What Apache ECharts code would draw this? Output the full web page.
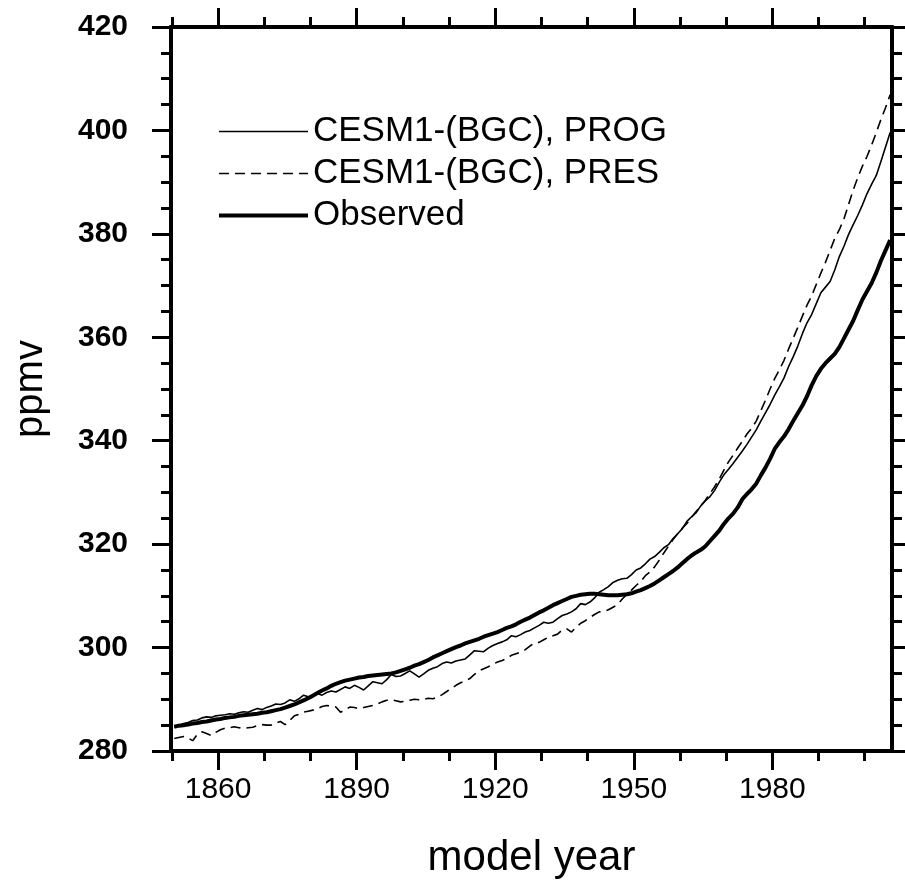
<!DOCTYPE html>
<html>
<head>
<meta charset="utf-8">
<script src="https://cdn.jsdelivr.net/npm/echarts@6/dist/echarts.min.js"></script>
<style>html,body{margin:0;padding:0;background:#fff}#c{width:905px;height:884px}</style>
</head>
<body>
<div id="c"></div>
<script>
const startYear = 1850;
const seriesNames = ['CESM1-(BGC), PROG', 'CESM1-(BGC), PRES', 'Observed'];
const xMajorTicks = [1860, 1890, 1920, 1950, 1980];
const xMinorTicks = [1850, 1870, 1880, 1900, 1910, 1930, 1940, 1960, 1970, 1990, 2000];
const yTicks = [280, 300, 320, 340, 360, 380, 400, 420];

const prog = [
284.6,284.9,285.3,285.5,285.9,286.0,286.4,286.6,286.5,286.8,
286.9,287.0,287.2,287.1,287.4,287.6,287.5,287.9,288.2,288.0,
288.4,288.7,289.1,289.0,289.3,289.9,289.6,290.1,290.8,290.5,
290.7,291.1,290.8,291.3,291.6,291.4,291.9,292.4,292.1,292.7,
292.3,291.8,292.6,293.4,293.2,293.0,293.8,294.8,294.4,294.5,
295.0,295.5,294.9,294.3,294.9,295.6,296.0,296.3,296.9,297.2,
297.0,297.4,297.6,297.8,298.6,299.4,299.3,299.2,299.9,300.4,
300.8,301.1,301.5,302.3,302.1,302.5,303.0,303.3,303.8,304.3,
304.9,304.7,304.9,305.6,306.2,306.5,306.9,307.5,308.5,308.3,
308.8,309.6,310.7,311.2,311.8,312.6,313.0,313.3,313.4,314.1,
315.0,315.4,316.2,317.1,317.6,318.4,319.3,319.9,321.1,322.0,
323.0,324.4,325.3,326.1,327.4,328.4,329.2,330.4,332.0,333.4,
334.5,335.6,336.8,338.0,339.3,340.7,342.1,343.8,345.4,347.0,
348.8,350.4,352.1,354.3,356.2,358.3,360.7,362.8,364.4,366.5,
368.6,369.7,370.8,373.0,375.6,377.6,379.9,381.8,383.6,385.6,
387.8,389.6,391.3,394.0,396.8,399.6
];

const pres = [
282.4,282.6,282.8,282.5,282.0,283.2,283.7,283.4,283.0,283.6,
284.1,284.4,284.5,284.7,284.5,284.4,284.5,284.6,284.9,285.1,
285.0,285.0,285.4,285.7,285.1,285.9,286.8,287.1,287.5,287.7,
287.9,288.2,288.6,288.8,288.7,288.5,287.5,287.9,288.5,288.4,
288.2,288.4,288.6,288.8,289.1,289.5,289.8,289.9,289.7,289.5,
289.6,289.8,290.0,289.9,290.0,290.2,290.1,290.4,290.9,291.5,
292.1,292.7,293.2,293.6,294.0,294.8,295.5,295.9,296.3,296.8,
297.2,297.5,297.9,298.5,298.8,299.1,299.6,300.3,300.9,301.0,
301.5,302.0,302.3,302.6,303.4,303.6,303.0,303.9,304.7,305.2,
305.8,306.4,306.9,307.0,307.3,307.8,308.3,309.4,310.3,311.1,
312.0,312.8,313.9,314.6,315.6,316.9,318.3,319.6,320.9,322.0,
323.1,324.0,325.2,326.3,327.4,328.5,329.8,331.1,332.6,334.3,
335.9,337.2,338.6,339.9,341.3,342.4,343.8,345.8,347.8,350.0,
352.0,353.7,355.5,357.7,359.8,361.9,364.1,366.2,368.0,370.2,
372.4,374.5,376.8,379.1,380.8,382.9,385.7,388.5,390.9,393.1,
395.0,397.2,399.6,402.1,404.4,406.9
];

const observed = [
284.7,284.9,285.0,285.1,285.3,285.4,285.6,285.7,285.9,286.1,
286.2,286.4,286.5,286.6,286.8,286.9,287.0,287.1,287.2,287.4,
287.5,287.7,287.9,288.1,288.4,288.7,289.0,289.4,289.8,290.2,
290.7,291.2,291.7,292.1,292.6,293.0,293.3,293.6,293.8,294.0,
294.2,294.3,294.5,294.6,294.7,294.8,294.9,295.0,295.2,295.5,
295.8,296.1,296.5,296.8,297.2,297.6,298.1,298.5,298.9,299.3,
299.7,300.1,300.4,300.8,301.1,301.4,301.7,302.1,302.4,302.7,
303.0,303.4,303.8,304.1,304.5,305.0,305.4,305.8,306.3,306.8,
307.2,307.7,308.2,308.6,309.0,309.4,309.8,310.0,310.2,310.3,
310.4,310.4,310.3,310.2,310.1,310.1,310.1,310.2,310.3,310.5,
310.8,311.1,311.5,311.9,312.4,313.0,313.6,314.2,314.8,315.5,
316.3,317.1,317.8,318.4,318.9,319.6,320.6,321.6,322.6,323.9,
325.0,325.9,327.1,328.7,329.7,330.6,331.7,333.3,334.8,336.5,
338.4,339.7,340.8,342.2,343.8,345.3,346.8,348.6,350.7,352.5,
353.9,355.0,355.9,356.8,358.1,359.8,361.5,363.2,365.3,367.3,
368.9,370.5,372.5,374.8,376.8,378.8
];

function pairs(arr) { return arr.map((v, i) => [startYear + i + 0.5, v]); }

const FONT = 'Liberation Sans';
const X_MIN = 1849.8, X_MAX = 2005.9;
const lineWidths = [1.6, 1.6, 4];
const lineTypes = ['solid', [10, 6], 'solid'];

const chart = echarts.init(document.getElementById('c'), null, { renderer: 'canvas' });

const axisLine = { show: true, onZero: false, lineStyle: { color: '#000', width: 4 } };
function xAx(pos, ticks, len, labels, extra) {
  return Object.assign({
    type: 'value', position: pos, min: X_MIN, max: X_MAX, gridIndex: 0,
    axisLine: axisLine,
    axisTick: { show: true, inside: false, length: len, customValues: ticks, lineStyle: { color: '#000', width: 3 } },
    axisLabel: labels ? { show: true, customValues: xMajorTicks, formatter: v => String(Math.round(v)), fontFamily: FONT, fontSize: 30, color: '#000', margin: 24 } : { show: false },
    splitLine: { show: false }
  }, extra || {});
}

chart.setOption({
  animation: false,
  backgroundColor: '#fff',
  grid: { left: 171, top: 27, width: 721, height: 725, containLabel: false },
  legend: {
    left: 217, top: 114, orient: 'vertical', padding: 0,
    itemWidth: 89, itemHeight: 14, itemGap: 7,
    itemStyle: { color: 'rgba(0,0,0,0)', borderWidth: 0, opacity: 0 },
    textStyle: { fontFamily: FONT, fontSize: 35, color: '#000', lineHeight: 35 },
    data: seriesNames.map((n, i) => ({ name: n, lineStyle: { width: lineWidths[i], type: lineTypes[i], color: '#000' } }))
  },
  xAxis: [
    xAx('bottom', xMajorTicks, 19, true, { name: 'model year', nameLocation: 'middle', nameGap: 86, nameTextStyle: { fontFamily: FONT, fontSize: 42, color: '#000' } }),
    xAx('bottom', xMinorTicks, 10, false),
    xAx('top', xMajorTicks, 19, false),
    xAx('top', xMinorTicks, 10, false)
  ],
  yAxis: [
    {
      type: 'value', position: 'left', min: yTicks[0], max: yTicks[yTicks.length - 1], interval: 20,
      axisLine: axisLine,
      axisTick: { show: true, inside: false, length: 19, lineStyle: { color: '#000', width: 3 } },
      minorTick: { show: true, splitNumber: 4, length: 10, lineStyle: { color: '#000', width: 3 } },
      axisLabel: { fontFamily: FONT, fontWeight: 'bold', fontSize: 30, color: '#000', margin: 43 },
      splitLine: { show: false }, minorSplitLine: { show: false },
      name: 'ppmv', nameLocation: 'middle', nameGap: 120,
      nameTextStyle: { fontFamily: FONT, fontSize: 40, color: '#000' }
    },
    {
      type: 'value', position: 'right', min: yTicks[0], max: yTicks[yTicks.length - 1], interval: 20,
      axisLine: axisLine,
      axisTick: { show: true, inside: false, length: 19, lineStyle: { color: '#000', width: 3 } },
      minorTick: { show: true, splitNumber: 4, length: 10, lineStyle: { color: '#000', width: 3 } },
      axisLabel: { show: false },
      splitLine: { show: false }, minorSplitLine: { show: false }
    }
  ],
  series: seriesNames.map((n, i) => ({
    name: n, type: 'line', data: pairs([prog, pres, observed][i]), symbol: 'none', showSymbol: false,
    lineStyle: { color: '#000', width: lineWidths[i], type: lineTypes[i] }, itemStyle: { color: '#000' }, z: i === 2 ? 4 : 3
  }))
});
</script>
</body>
</html>
